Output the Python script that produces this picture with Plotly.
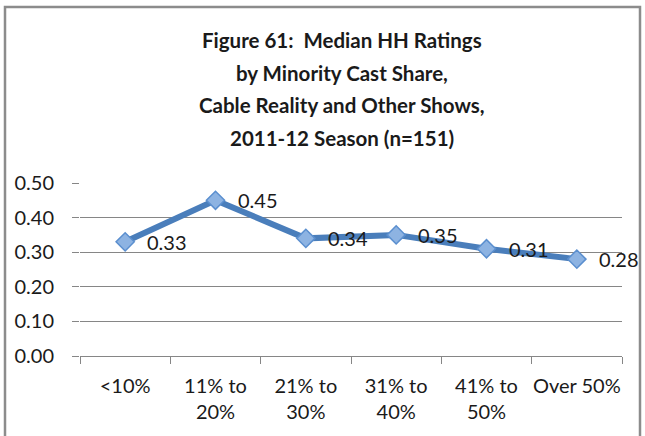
import plotly.graph_objects as go

categories = ["<10%", "11% to<br>20%", "21% to<br>30%", "31% to<br>40%", "41% to<br>50%", "Over 50%"]
values = [0.33, 0.45, 0.34, 0.35, 0.31, 0.28]
value_labels = ["0.33", "0.45", "0.34", "0.35", "0.31", "0.28"]
y_ticks = [0.0, 0.1, 0.2, 0.3, 0.4, 0.5]
y_tick_labels = ["0.00", "0.10", "0.20", "0.30", "0.40", "0.50"]
title_lines = ["Figure 61:  Median HH Ratings", "by Minority Cast Share,",
               "Cable Reality and Other Shows,", "2011-12 Season (n=151)"]

W, H = 645, 436
PL, PR, PT, PB = 80, 622, 183, 356
L, T, R, B = PL, PT, W - PR, H - PB
pw, ph = W - L - R, H - T - B

def px_x(x):
    return (x - PL) / pw

def px_y(y):
    return (PB - y) / ph

fig = go.Figure()
fig.add_trace(go.Scatter(
    x=categories, y=values, mode="lines+markers",
    line=dict(color="#4A7EBB", width=6),
    marker=dict(symbol="diamond", size=14, color="#8DB3E2",
                line=dict(color="#5B8FCF", width=1.5)),
    cliponaxis=False, showlegend=False, hoverinfo="skip",
))

for c, v, t in zip(categories, values, value_labels):
    fig.add_annotation(x=c, y=v, text=t, xref="x", yref="y", showarrow=False,
                       xanchor="left", yanchor="middle", xshift=20,
                       font=dict(family="Lato", size=20, color="#1a1a1a"))

fig.update_layout(
    width=W, height=H, margin=dict(l=L, r=R, t=T, b=B, autoexpand=False),
    paper_bgcolor="white", plot_bgcolor="white",
    font=dict(family="Lato", size=20, color="#1a1a1a"),
    xaxis=dict(type="category", tickson="boundaries", ticks="outside", ticklen=7,
               tickcolor="#868686", showline=True, linecolor="#868686", linewidth=1,
               showgrid=False, tickfont=dict(size=20), ticklabelstandoff=12,
               tickangle=0, automargin=False, range=[-0.5, 5.5]),
    yaxis=dict(range=[0, 0.5], tickvals=y_ticks, ticktext=y_tick_labels,
               ticks="outside", ticklen=7, tickcolor="#868686",
               showgrid=True, gridcolor="#868686", gridwidth=1,
               zeroline=False, showline=False, tickfont=dict(size=20),
               ticklabelstandoff=14, automargin=False),
)

centers = [40, 72.5, 104.5, 137.5]
for line, cy in zip(title_lines, centers):
    fig.add_annotation(text="<b>" + line + "</b>", x=px_x(342), y=px_y(cy),
                       xref="paper", yref="paper", xanchor="center", yanchor="middle",
                       showarrow=False, font=dict(family="Lato", size=20.5, color="#1a1a1a"))

fig.add_shape(type="rect", xref="paper", yref="paper",
              x0=px_x(5), x1=px_x(640), y0=px_y(445), y1=px_y(7),
              line=dict(color="#8c8c8c", width=2.5), fillcolor="rgba(0,0,0,0)", layer="below")

fig.write_html("out.html", config={"displayModeBar": False},
               post_script="document.body.style.margin='0';document.body.style.overflow='hidden';")
